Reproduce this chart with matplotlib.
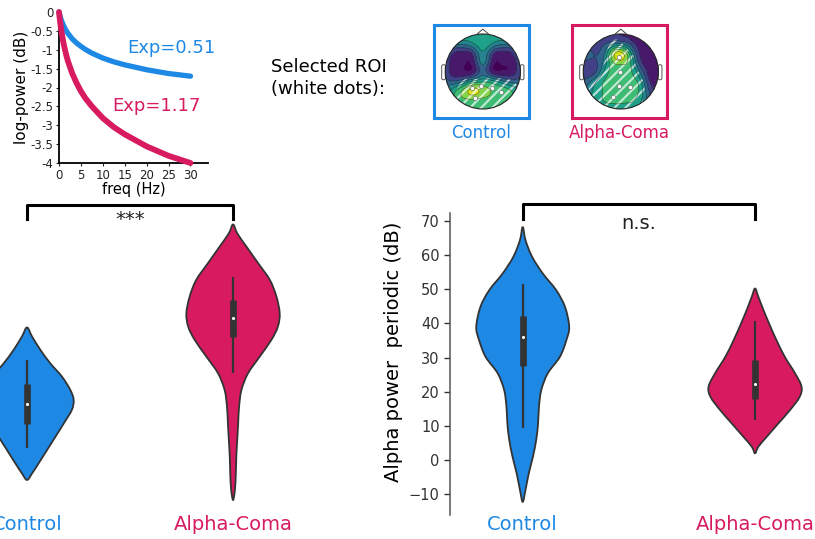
import numpy as np
import matplotlib
matplotlib.use("Agg")
import matplotlib.pyplot as plt
import matplotlib.tri as mtri
from matplotlib.patches import Circle, FancyBboxPatch, PathPatch
from matplotlib.path import Path

plt.rcParams['font.family'] = ['DejaVu Sans']
plt.rcParams['hatch.color'] = (1, 1, 1, 0.7)
plt.rcParams['hatch.linewidth'] = 1.5

W, H = 815, 539
BLUE = '#1E88E5'
RED = '#D81B60'
DARK = '#333333'

''' data '''
groups = ['Control', 'Alpha-Coma']
group_colors = [BLUE, RED]

# aperiodic fit (inset)
freq = [0, 0.25, 0.5, 1, 1.5, 2, 3, 4, 5, 6, 7.5, 10, 12.5, 15, 20, 25, 30]
aper_control = [0, -0.11, -0.21, -0.35, -0.47, -0.56, -0.71, -0.82, -0.91, -0.99, -1.09, -1.22,
                -1.32, -1.40, -1.53, -1.63, -1.70]
aper_coma = [0, -0.26, -0.47, -0.81, -1.07, -1.29, -1.62, -1.88, -2.10, -2.28, -2.50, -2.81,
             -3.05, -3.24, -3.56, -3.81, -4.0]
exp_labels = ['Exp=0.51', 'Exp=1.17']

# violin outlines (value, relative density) - exponent panel
exp_ctrl_y = [1.098, 1.027, 0.924, 0.822, 0.720, 0.617, 0.541, 0.464, 0.362, 0.259, 0.157, 0.055, -0.022, -0.073]
exp_ctrl_d = [0, .11, .29, .50, .75, .93, 1, .96, .79, .61, .43, .25, .11, 0]
exp_coma_y = [1.889, 1.820, 1.717, 1.590, 1.462, 1.334, 1.206, 1.103, 1.001, 0.873, 0.745, 0.617,
              0.490, 0.362, 0.234, 0.106, -0.022, -0.150, -0.227]
exp_coma_d = [0, .09, .29, .54, .79, .93, 1, .96, .82, .57, .32, .18, .13, .11, .09, .07, .06, .04, 0]
# box stats: whisker low, q1, median, q3, whisker high
exp_ctrl_box = [0.170, 0.357, 0.510, 0.661, 0.848]
exp_coma_box = [0.745, 1.027, 1.173, 1.308, 1.482]

# alpha power periodic panel
alpha_ctrl_y = [68.2, 64.3, 59.5, 54.6, 49.7, 44.8, 39.0, 35.1, 30.2, 25.4, 20.5, 15.6, 10.7, 5.9, 1.0, -3.9, -8.7, -12.2]
alpha_ctrl_d = [0, .06, .20, .43, .72, .91, 1, .94, .80, .54, .40, .35, .33, .29, .22, .13, .06, 0]
alpha_coma_y = [50.2, 47.8, 43.9, 40.0, 35.1, 30.2, 25.4, 21.5, 18.5, 14.6, 10.7, 6.8, 3.9, 2.0]
alpha_coma_d = [0, .07, .18, .30, .46, .64, .86, 1, .96, .75, .50, .25, .07, 0]
alpha_ctrl_box = [9.3, 27.6, 36.1, 42.1, 51.4]
alpha_coma_box = [11.7, 17.9, 22.2, 29.3, 40.8]
alpha_ticks = [-10, 0, 10, 20, 30, 40, 50, 60, 70]

# topographies on a 9x9 grid, rows from front (top) to back (bottom), 0 = low, 1 = high
topo_ctrl = [[.50, .55, .58, .60, .62, .60, .58, .55, .50],
             [.40, .40, .42, .50, .60, .50, .42, .40, .40],
             [.28, .12, .08, .20, .48, .20, .08, .12, .28],
             [.22, .04, .01, .08, .42, .08, .01, .04, .22],
             [.22, .04, .01, .06, .30, .06, .01, .04, .22],
             [.32, .25, .35, .50, .58, .52, .40, .30, .32],
             [.45, .58, .78, .92, .82, .74, .70, .62, .50],
             [.50, .62, .72, .74, .72, .70, .68, .62, .55],
             [.55, .60, .64, .66, .66, .64, .62, .58, .55]]
topo_coma = [[.20, .20, .18, .15, .12, .08, .04, .02, .02],
             [.22, .22, .22, .32, .36, .22, .06, .02, .02],
             [.25, .25, .30, .72, .90, .55, .12, .03, .02],
             [.25, .22, .35, .70, .82, .65, .20, .05, .03],
             [.20, .18, .45, .66, .66, .65, .38, .08, .05],
             [.25, .40, .60, .66, .66, .66, .55, .15, .08],
             [.38, .50, .62, .66, .66, .66, .60, .25, .10],
             [.42, .52, .62, .64, .64, .64, .55, .30, .15],
             [.42, .50, .55, .60, .60, .60, .50, .30, .20]]
# selected ROI masks (hatched), same grid
roi_mask_ctrl = [[0, 0, 0, 0, 0, 0, 0, 0, 0],
                 [0, 0, 0, 0, 0, 0, 0, 0, 0],
                 [0, 0, 0, 0, 0, 0, 0, 0, 0],
                 [0, 0, 0, 0, 0, 0, 0, 0, 0],
                 [0, 0, 0, 0, 0, 0, 0, 0, 0],
                 [0, 0, .6, .7, .7, .7, .7, .6, 0],
                 [0, .3, 1, 1, 1, 1, 1, 1, .4],
                 [0, .3, 1, 1, 1, 1, 1, 1, .4],
                 [0, .3, 1, 1, 1, 1, 1, 1, .4]]
roi_mask_coma = [[0, 0, 0, 0, 0, 0, 0, 0, 0],
                 [0, 0, 0, .6, .6, 0, 0, 0, 0],
                 [0, 0, 0, 1, 1, .6, 0, 0, 0],
                 [0, 0, .3, 1, 1, 1, 0, 0, 0],
                 [0, 0, .6, 1, 1, 1, .4, 0, 0],
                 [0, .4, 1, 1, 1, 1, .8, 0, 0],
                 [.3, .7, 1, 1, 1, 1, 1, 0, 0],
                 [.3, .7, 1, 1, 1, 1, .8, 0, 0],
                 [.3, .7, 1, 1, 1, 1, .8, 0, 0]]
roi_ctrl = [(-0.29, -0.43), (-0.04, -0.38), (0.24, -0.43), (0.49, -0.55), (-0.20, -0.71)]
roi_coma = [(-0.04, 0.375), (-0.03, -0.02), (-0.04, -0.375), (0.24, -0.40), (-0.22, -0.69)]


def px(left, top, w, h):
    return [left / W, 1 - (top + h) / H, w / W, h / H]


fig = plt.figure(figsize=(W / 100, H / 100), dpi=100)

''' inset: aperiodic slopes '''
ax0 = fig.add_axes(px(59, 12, 149, 151))
ax0.plot(freq, aper_control, color=BLUE, lw=3.8, solid_capstyle='round', clip_on=False, zorder=3)
ax0.plot(freq, aper_coma, color=RED, lw=4.2, solid_capstyle='round', clip_on=False, zorder=3)
ax0.text(25.7, -0.95, exp_labels[0], color=BLUE, fontsize=13, ha='center', va='center')
ax0.text(22.3, -2.49, exp_labels[1], color=RED, fontsize=13, ha='center', va='center')
ax0.set_xlim(0, 34)
ax0.set_ylim(-4, 0)
ax0.set_xticks(range(0, 31, 5))
yt = np.arange(-4, 0.01, 0.5)
ax0.set_yticks(yt)
ax0.set_yticklabels([('%g' % v) for v in yt])
ax0.tick_params(labelsize=8.5, length=2, width=0.8, pad=2, colors='#222222')
for s in ['top', 'right']:
    ax0.spines[s].set_visible(False)
for s in ['left', 'bottom']:
    ax0.spines[s].set_linewidth(1.3)
ax0.set_xlabel('freq (Hz)', fontsize=10.5, labelpad=0)
ax0.set_ylabel('log-power (dB)', fontsize=11, labelpad=1)

''' ROI text and topomaps '''
fig.text(271 / W, 1 - 78 / H, 'Selected ROI\n(white dots):', fontsize=13, ha='left', va='center',
         linespacing=1.25)


def smooth_grid(grid, FX, FY):
    g = np.array(grid, dtype=float)[::-1]
    xs = np.linspace(-1, 1, g.shape[0])
    X, Y = np.meshgrid(xs, xs)
    tri = mtri.Triangulation(X.ravel(), Y.ravel())
    return mtri.CubicTriInterpolator(tri, g.ravel())(FX, FY)


def topo(rect, grid, mask, dots, color, label):
    ax = fig.add_axes(px(*rect))
    fx = np.linspace(-1, 1, 150)
    FX, FY = np.meshgrid(fx, fx)
    Z = smooth_grid(grid, FX, FY)
    M = smooth_grid(mask, FX, FY)
    head = Circle((0, 0), 1, transform=ax.transData)
    cf = ax.contourf(FX, FY, Z, levels=np.linspace(0, 1, 9), cmap='viridis', extend='both')
    cf.set_clip_path(head)
    cl = ax.contour(FX, FY, Z, levels=np.linspace(0.125, 0.875, 7), colors='k', linewidths=0.45, alpha=0.55)
    cl.set_clip_path(head)
    hat = ax.contourf(FX, FY, M, levels=[0.5, 5], colors='none', hatches=['///'])
    hat.set_clip_path(head)
    ax.add_patch(Circle((0, 0), 1, fill=False, ec='#222222', lw=0.8))
    ax.plot([-0.17, 0, 0.17], [0.985, 1.13, 0.985], color='#444444', lw=0.7)
    for sx in (-1, 1):
        ax.add_patch(FancyBboxPatch((sx * 1.045 - 0.05, -0.22), 0.1, 0.40,
                                    boxstyle='round,pad=0,rounding_size=0.04',
                                    fc='white', ec='#555555', lw=0.7, zorder=0))
    dx, dy = zip(*dots)
    ax.scatter(dx, dy, s=9, c='white', edgecolors='#777777', linewidths=0.5, zorder=5)
    ax.set_xlim(-1.30, 1.23)
    ax.set_ylim(-1.24, 1.24)
    ax.set_xticks([])
    ax.set_yticks([])
    for sp in ax.spines.values():
        sp.set_color(color)
        sp.set_linewidth(2.2)
    ax.text(0.5, -0.06, label, transform=ax.transAxes, ha='center', va='top', color=color, fontsize=12)


topo((434, 25, 95, 93), topo_ctrl, roi_mask_ctrl, roi_ctrl, BLUE, groups[0])
topo((572, 25, 95, 93), topo_coma, roi_mask_coma, roi_coma, RED, groups[1])


''' violins '''
def smooth_outline(xs, ys):
    # closed Catmull-Rom curve through the outline points, as cubic Bezier segments
    P = np.column_stack([xs, ys])
    n = len(P)
    verts = [P[0]]
    codes = [Path.MOVETO]
    for i in range(n):
        p0, p1, p2, p3 = P[i - 1], P[i], P[(i + 1) % n], P[(i + 2) % n]
        verts += [p1 + (p2 - p0) / 6, p2 - (p3 - p1) / 6, p2]
        codes += [Path.CURVE4] * 3
    return Path(verts, codes)


def violin(ax, pos, ys, dens, scale, color, stats):
    ys = np.array(ys)
    d = np.array(dens) * scale
    ox = np.concatenate([pos + d, (pos - d)[-2:0:-1]])
    oy = np.concatenate([ys, ys[-2:0:-1]])
    ax.add_patch(PathPatch(smooth_outline(ox, oy), facecolor=color, edgecolor=DARK, lw=1.3, zorder=2))
    lo, q1, med, q3, hi = stats
    ax.plot([pos, pos], [lo, hi], color=DARK, lw=1.6, solid_capstyle='butt', zorder=3)
    ax.plot([pos, pos], [q1, q3], color=DARK, lw=4.8, solid_capstyle='butt', zorder=3)
    ax.scatter([pos], [med], s=5, color='white', zorder=4, linewidths=0)


def bracket(ax, top, foot, text, ty):
    ax.plot([0, 0, 1, 1], [foot, top, top, foot], color='black', lw=2.2, clip_on=False)
    ax.text(0.5, ty, text, ha='center', va='center', fontsize=14, color='#222222')


def cat_labels(ax):
    ax.set_xticks([0, 1])
    ax.set_xticklabels(groups, fontsize=14)
    for t, c in zip(ax.get_xticklabels(), group_colors):
        t.set_color(c)
    ax.tick_params(axis='x', length=0, pad=0)


ax1 = fig.add_axes(px(0, 200, 300, 315))
violin(ax1, 0, exp_ctrl_y, exp_ctrl_d, 0.2265, BLUE, exp_ctrl_box)
violin(ax1, 1, exp_coma_y, exp_coma_d, 0.2265, RED, exp_coma_box)
bracket(ax1, 2.037, 1.930, '***', 1.93)
ax1.set_xlim(-0.131, 1.325)
ax1.set_ylim(-0.342, 2.076)
ax1.set_yticks([])
for sp in ax1.spines.values():
    sp.set_visible(False)
cat_labels(ax1)

ax2 = fig.add_axes(px(450, 213, 365, 302))
violin(ax2, 0, alpha_ctrl_y, alpha_ctrl_d, 0.2, BLUE, alpha_ctrl_box)
violin(ax2, 1, alpha_coma_y, alpha_coma_d, 0.2, RED, alpha_coma_box)
bracket(ax2, 74.9, 70.5, 'n.s.', 69.3)
ax2.set_xlim(-0.313, 1.258)
ax2.set_ylim(-16.05, 72.25)
ax2.set_yticks(alpha_ticks)
ax2.tick_params(axis='y', labelsize=10.5, colors='#333333', length=4, width=1)
for s in ['top', 'right', 'bottom']:
    ax2.spines[s].set_visible(False)
ax2.spines['left'].set_color('#555555')
ax2.spines['left'].set_linewidth(1.1)
cat_labels(ax2)
ax2.set_ylabel('Alpha power  periodic (dB)', fontsize=14)
ax2.yaxis.set_label_coords(-0.13, 0.54)

fig.savefig('out.png', dpi=100)
